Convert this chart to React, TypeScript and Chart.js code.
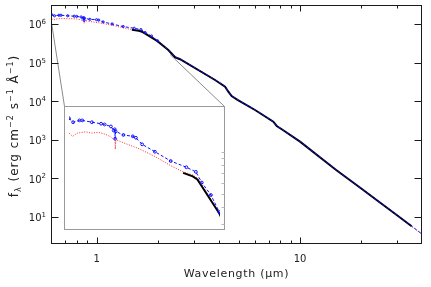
import { useEffect, useRef } from "react";
import { Chart, registerables } from "chart.js";
Chart.register(...registerables);

// ---- data (wavelength in micron, flux f_lambda) ----
const blackWl = [1.49, 1.61, 1.67, 1.99, 2.25, 2.43, 2.57, 3.82, 4.28, 4.44, 4.61, 4.95, 6.01, 7.39, 7.68, 8.13, 10, 15, 20, 25, 30, 35.4];
const blackFlux = [7.05e5, 6.64e5, 6.31e5, 3.59e5, 2.12e5, 1.37e5, 1.22e5, 3.54e4, 2.38e4, 1.76e4, 1.36e4, 1.07e4, 5.91e3, 2.94e3, 2.28e3, 1.87e3, 893, 168, 54.5, 22.6, 11.1, 5.74];

const blueWl = [0.6, 0.62, 0.652, 0.667, 0.72, 0.775, 0.797, 0.838, 0.857, 0.864, 0.867, 0.87, 0.926, 0.998, 1.023, 1.075, 1.19, 1.35, 1.53, 1.65, 1.73, 1.86, 1.99, 2.25, 2.43, 2.57, 3.82, 4.28, 4.44, 4.61, 4.95, 6.01, 7.39, 7.68, 8.13, 10, 15, 20, 25, 30, 35.4, 45];
const blueFlux = [1.74e6, 1.63e6, 1.68e6, 1.68e6, 1.63e6, 1.59e6, 1.57e6, 1.52e6, 1.42e6, 1.45e6, 1.24e6, 1.4e6, 1.32e6, 1.29e6, 1.26e6, 1.13e6, 1.0e6, 8.57e5, 7.73e5, 7.16e5, 6.0e5, 4.88e5, 3.68e5, 2.15e5, 1.39e5, 1.24e5, 3.6e4, 2.42e4, 1.79e4, 1.38e4, 1.08e4, 5.95e3, 2.96e3, 2.3e3, 1.88e3, 900, 170, 55, 22.8, 11.2, 5.8, 2.2];

const redWl = [0.6, 0.618, 0.64, 0.686, 0.72, 0.757, 0.797, 0.838, 0.857, 0.865, 0.868, 0.871, 0.881, 0.926, 1.05, 1.19, 1.35, 1.49, 1.61, 1.69, 1.99, 2.25, 2.43, 2.57, 3.82, 4.28, 4.44, 4.61, 4.95, 6.01, 7.39, 7.68, 8.13, 10, 15, 20, 25, 30, 35.4, 45];
const redFlux = [1.36e6, 1.29e6, 1.36e6, 1.39e6, 1.36e6, 1.38e6, 1.34e6, 1.28e6, 1.22e6, 1.25e6, 1.04e6, 1.2e6, 1.21e6, 1.16e6, 1.05e6, 9.25e5, 7.94e5, 7.16e5, 6.81e5, 6.31e5, 3.59e5, 2.1e5, 1.36e5, 1.21e5, 3.52e4, 2.36e4, 1.75e4, 1.35e4, 1.06e4, 5.88e3, 2.92e3, 2.27e3, 1.86e3, 890, 167, 54, 22.4, 11, 5.7, 2.2];

// ---- axes ----
const xRange = [0.596, 39.8];
const yRange = [2.12, 3.1e6];
const xMajorTicks = [1, 10];
const xMajorLabels = ["1", "10"];
const xMinorTicks = [0.7, 0.8, 0.9, 2, 3, 4, 5, 6, 7, 8, 9, 20, 30];
const yMajorExps = [1, 2, 3, 4, 5, 6];

// inset: box location in main-plot data space, its own ranges, and zoom anchors
const insetBox = { x0: 0.69, x1: 4.23, yTop: 7.52e3, yBottom: 4.89 };
const insetXRange = [0.6, 2.0];
const insetYRange = [2.97e5, 1.963e6];
const insetYTicks = [3e5, 4e5, 5e5, 6e5, 7e5, 8e5, 9e5, 1e6];
const zoomAnchorLeft = { x: 0.6, y: 1.05e6 };
const zoomAnchorRight = { x: 2.3, y: 1.6e5 };

const FONT = "'DejaVu Sans', sans-serif";
const TEXT = "#222";

const toPts = (xs: number[], ys: number[]) => xs.map((x, i) => ({ x, y: ys[i] }));

function makeDatasets(markerRadius: number) {
  return [
    {
      label: "blue",
      order: 0,
      data: toPts(blueWl, blueFlux),
      borderColor: "#1010ff",
      borderWidth: 1,
      borderDash: [3, 2],
      pointRadius: (c: any) => (c.raw && c.raw.x < 2.05 ? markerRadius : 0),
      pointBorderColor: "#1010ff",
      pointBackgroundColor: "rgba(0,0,0,0)",
      pointBorderWidth: 1,
    },
    {
      label: "model",
      order: 1,
      data: toPts(blackWl, blackFlux),
      borderColor: "#000",
      borderWidth: 2,
      pointRadius: 0,
    },
    {
      label: "red",
      order: 2,
      data: toPts(redWl, redFlux),
      borderColor: "#ff2a2a",
      borderWidth: 1,
      borderDash: [1, 1.5],
      pointRadius: 0,
    },
  ];
}

type Part = { t: string; size: number; dy: number };
function richWidth(ctx: CanvasRenderingContext2D, parts: Part[]) {
  let w = 0;
  for (const p of parts) {
    ctx.font = `${p.size}px ${FONT}`;
    w += ctx.measureText(p.t).width;
  }
  return w;
}
function drawRich(ctx: CanvasRenderingContext2D, parts: Part[], x: number, y: number, align: "left" | "center" | "right") {
  const w = richWidth(ctx, parts);
  let cx = align === "left" ? x : align === "center" ? x - w / 2 : x - w;
  ctx.textAlign = "left";
  ctx.textBaseline = "alphabetic";
  for (const p of parts) {
    ctx.font = `${p.size}px ${FONT}`;
    ctx.fillText(p.t, cx, y + p.dy);
    cx += ctx.measureText(p.t).width;
  }
}

const mainFrame = {
  id: "mainFrame",
  afterDraw(chart: any) {
    const { ctx, chartArea: a, scales } = chart;
    const xs = scales.x, ys = scales.y;
    ctx.save();
    const L = Math.round(a.left) + 0.5, R = Math.round(a.right) - 0.5;
    const T = Math.round(a.top) + 0.5, B = Math.round(a.bottom) + 0.5;
    // zoom connectors
    const il = Math.round(xs.getPixelForValue(insetBox.x0)) + 0.5;
    const ir = Math.round(xs.getPixelForValue(insetBox.x1)) + 0.5;
    const it = Math.round(ys.getPixelForValue(insetBox.yTop)) + 0.5;
    ctx.strokeStyle = "#8a8a8a";
    ctx.lineWidth = 1;
    ctx.beginPath();
    ctx.moveTo(xs.getPixelForValue(zoomAnchorLeft.x), ys.getPixelForValue(zoomAnchorLeft.y));
    ctx.lineTo(il, it);
    ctx.moveTo(xs.getPixelForValue(zoomAnchorRight.x), ys.getPixelForValue(zoomAnchorRight.y));
    ctx.lineTo(ir, it);
    ctx.stroke();

    // frame
    ctx.strokeStyle = "#1a1a1a";
    ctx.lineWidth = 1;
    ctx.strokeRect(L, T, R - L, B - T);
    ctx.beginPath();
    for (const v of xMajorTicks) {
      const px = Math.round(xs.getPixelForValue(v)) + 0.5;
      ctx.moveTo(px, B); ctx.lineTo(px, B - 6);
      ctx.moveTo(px, T); ctx.lineTo(px, T + 6);
    }
    for (const v of xMinorTicks) {
      const px = Math.round(xs.getPixelForValue(v)) + 0.5;
      ctx.moveTo(px, B); ctx.lineTo(px, B - 3);
      ctx.moveTo(px, T); ctx.lineTo(px, T + 3);
    }
    for (const e of yMajorExps) {
      const py = Math.round(ys.getPixelForValue(Math.pow(10, e))) + 0.5;
      ctx.moveTo(L, py); ctx.lineTo(L + 7, py);
      ctx.moveTo(R, py); ctx.lineTo(R - 7, py);
    }
    ctx.stroke();

    // labels
    ctx.fillStyle = TEXT;
    xMajorTicks.forEach((v, i) => {
      const px = xs.getPixelForValue(v);
      drawRich(ctx, [{ t: xMajorLabels[i], size: 10, dy: 0 }], px, B + 18, "center");
    });
    for (const e of yMajorExps) {
      const py = ys.getPixelForValue(Math.pow(10, e));
      drawRich(ctx, [{ t: "10", size: 10, dy: 0 }, { t: String(e), size: 7, dy: -4.5 }], L - 5.5, py + 4.5, "right");
    }

    // axis titles
    ctx.letterSpacing = "0.7px";
    drawRich(ctx, [{ t: "Wavelength (μm)", size: 11, dy: 0 }], (a.left + a.right) / 2, 276.5, "center");
    ctx.letterSpacing = "1px";
    ctx.translate(17.5, (a.top + a.bottom) / 2 + 2);
    ctx.rotate(-Math.PI / 2);
    drawRich(
      ctx,
      [
        { t: "f", size: 12, dy: 0 },
        { t: "λ", size: 8, dy: 3 },
        { t: " (erg cm", size: 12, dy: 0 },
        { t: "−2", size: 8, dy: -5 },
        { t: " s", size: 12, dy: 0 },
        { t: "−1", size: 8, dy: -5 },
        { t: " Å", size: 12, dy: 0 },
        { t: "−1", size: 8, dy: -5 },
        { t: ")", size: 12, dy: 0 },
      ],
      0,
      0,
      "center"
    );
    ctx.restore();
  },
};

const insetFrame = {
  id: "insetFrame",
  afterDraw(chart: any) {
    const { ctx, width, height, scales } = chart;
    ctx.save();
    ctx.strokeStyle = "#9a9a9a";
    ctx.lineWidth = 1;
    ctx.strokeRect(0.5, 0.5, width - 1, height - 1);
    ctx.strokeStyle = "#b8b8b8";
    ctx.beginPath();
    for (const v of insetYTicks) {
      const py = Math.round(scales.y.getPixelForValue(v)) + 0.5;
      ctx.moveTo(width - 0.5, py); ctx.lineTo(width - 3.5, py);
    }
    ctx.stroke();
    ctx.restore();
  },
};

export default function App() {
  const mainRef = useRef<HTMLCanvasElement>(null);
  const insetRef = useRef<HTMLCanvasElement>(null);

  useEffect(() => {
    const main = new Chart(mainRef.current!, {
      type: "line",
      data: { datasets: makeDatasets(1.1) as any },
      options: {
        animation: false,
        responsive: false,
        devicePixelRatio: 1,
        events: [],
        layout: { padding: { left: 51, right: 9, top: 5, bottom: 44 } },
        plugins: { legend: { display: false }, tooltip: { enabled: false } },
        elements: { line: { tension: 0 } },
        scales: {
          x: { type: "logarithmic", min: xRange[0], max: xRange[1], display: false },
          y: { type: "logarithmic", min: yRange[0], max: yRange[1], display: false },
        },
      },
      plugins: [mainFrame],
    });

    const xs: any = main.scales.x, ys: any = main.scales.y;
    const l = Math.round(xs.getPixelForValue(insetBox.x0));
    const r = Math.round(xs.getPixelForValue(insetBox.x1)) + 1;
    const t = Math.round(ys.getPixelForValue(insetBox.yTop));
    const b = Math.round(ys.getPixelForValue(insetBox.yBottom)) + 1;
    const ic = insetRef.current!;
    ic.width = r - l;
    ic.height = b - t;
    ic.style.left = l + "px";
    ic.style.top = t + "px";
    ic.style.width = r - l + "px";
    ic.style.height = b - t + "px";

    const inset = new Chart(ic, {
      type: "line",
      data: { datasets: makeDatasets(1.4) as any },
      options: {
        animation: false,
        responsive: false,
        devicePixelRatio: 1,
        events: [],
        layout: { padding: 0 },
        plugins: { legend: { display: false }, tooltip: { enabled: false } },
        elements: { line: { tension: 0 } },
        scales: {
          x: { type: "logarithmic", min: insetXRange[0], max: insetXRange[1], display: false },
          y: { type: "logarithmic", min: insetYRange[0], max: insetYRange[1], display: false },
        },
      },
      plugins: [insetFrame],
    });

    return () => {
      inset.destroy();
      main.destroy();
    };
  }, []);

  return (
    <div style={{ position: "absolute", left: 0, top: 0, width: 431, height: 287, background: "#fff" }}>
      <canvas ref={mainRef} width={431} height={287} style={{ position: "absolute", left: 0, top: 0, width: 431, height: 287 }} />
      <canvas ref={insetRef} style={{ position: "absolute" }} />
    </div>
  );
}
